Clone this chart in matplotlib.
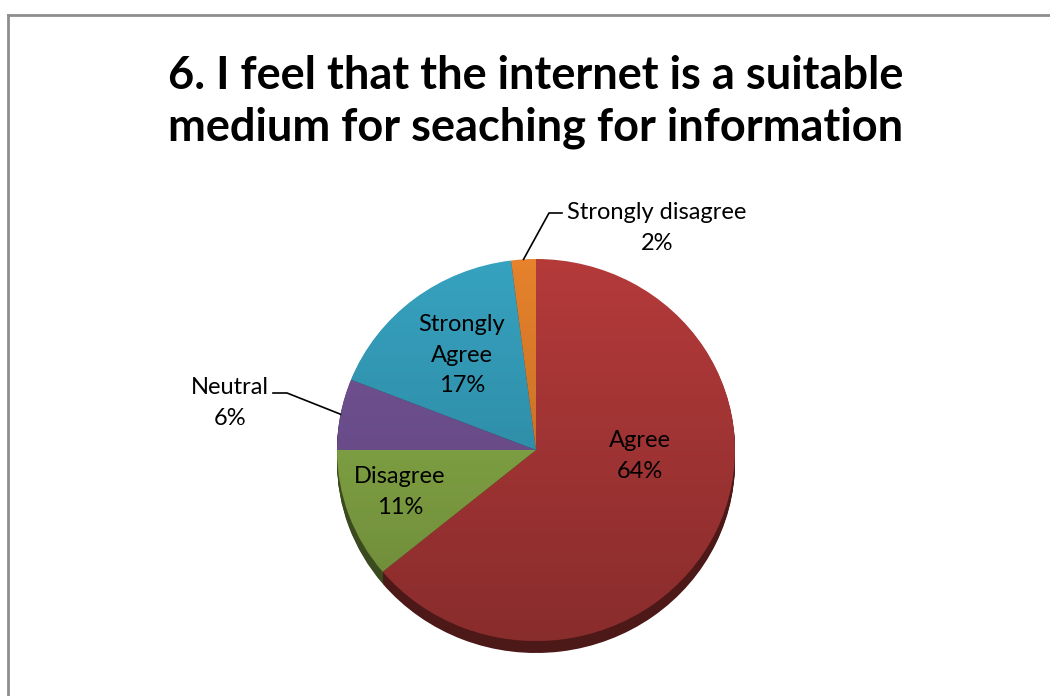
"""
Survey question 6: 3D-style pie of agreement levels
"""

import numpy as np
import matplotlib
matplotlib.use("Agg")
import matplotlib.pyplot as plt
from matplotlib.lines import Line2D
from matplotlib.patches import Ellipse
from matplotlib.colors import to_rgb

# survey answers, clockwise from 12 o'clock
answers = ["Agree", "Disagree", "Neutral", "Strongly\nAgree", "Strongly disagree"]
shares = [64, 11, 6, 17, 2]
slice_colors = ["#B43A3A", "#8DB24A", "#76559A", "#36A2C0", "#E6822C"]

title = "6. I feel that the internet is a suitable\nmedium for seaching for information"

W, H = 1050, 696
plt.rcParams["font.family"] = ["Lato", "DejaVu Sans"]


def main():
    fig = plt.figure(figsize=(W / 100, H / 100), dpi=100)

    # chart area border (top and left edges show)
    grey = "#8E8E8E"
    fig.add_artist(Line2D([8 / W, 1], [1 - 15 / H, 1 - 15 / H], color=grey, lw=2))
    fig.add_artist(Line2D([8 / W, 8 / W], [0, 1 - 15 / H], color=grey, lw=2))

    fig.text(536 / W, 1 - 102 / H, title, ha="center", va="center",
             fontsize=32.5, fontweight="bold", linespacing=1.3)

    # pie geometry in pixels
    cx, cy, rx, ry, depth = 536, 450, 199, 191, 12
    ax = fig.add_axes([(cx - rx) / W, (H - cy - ry - depth) / H,
                       2 * rx / W, (2 * ry + depth) / H])

    # extruded side: stacked darker copies shifted downwards
    side = [tuple(c * 0.42 for c in to_rgb(col)) for col in slice_colors]
    for k in range(depth, 0, -1):
        ax.pie(shares, colors=side, startangle=90, counterclock=False,
               center=(0, -k / ry), radius=1, frame=True,
               wedgeprops=dict(linewidth=0))

    # top surface
    wedges, _ = ax.pie(shares, colors=slice_colors, startangle=90,
                       counterclock=False, radius=1, frame=True,
                       wedgeprops=dict(linewidth=0))
    ax.set_xlim(-1, 1)
    ax.set_ylim(-1 - depth / ry, 1)
    ax.set_aspect("auto")
    ax.axis("off")

    # soft top-to-bottom shading over the top surface
    shade = np.zeros((256, 2, 4))
    shade[..., 3] = np.linspace(0, 0.24, 256)[:, None]
    im = ax.imshow(shade, extent=(-1, 1, -1, 1), origin="upper",
                   aspect="auto", zorder=5, interpolation="bilinear")
    im.set_clip_path(Ellipse((0, 0), 2, 2, transform=ax.transData))

    def to_data(px, py):
        return (px - cx) / rx, (cy - py) / ry

    labels = [f"{a}\n{v}%" for a, v in zip(answers, shares)]
    fs, ls = 17, 1.55
    inside = {0: (640, 456), 1: (400, 492), 3: (462, 355)}
    for i, pos in inside.items():
        ax.text(*to_data(*pos), labels[i], ha="center", va="center",
                fontsize=fs, zorder=6, linespacing=ls)

    # outside labels with leader lines to the slice edge
    outside = {2: ((230, 403), (273, 393), (287, 393)),
               4: ((657, 228), (562, 213), (549, 213))}
    for i, (pos, p1, p2) in outside.items():
        w = wedges[i]
        mid = np.deg2rad((w.theta1 + w.theta2) / 2)
        ex, ey = np.cos(mid), np.sin(mid)
        ax.text(*to_data(*pos), labels[i], ha="center", va="center",
                fontsize=fs, zorder=6, linespacing=ls, clip_on=False)
        xs = [to_data(*p1)[0], to_data(*p2)[0], ex]
        ys = [to_data(*p1)[1], to_data(*p2)[1], ey]
        ax.add_line(Line2D(xs, ys, color="black", lw=1.2, zorder=6,
                           clip_on=False))

    fig.savefig("out.png", dpi=100)
    return 0


if __name__ == "__main__":
    main()
